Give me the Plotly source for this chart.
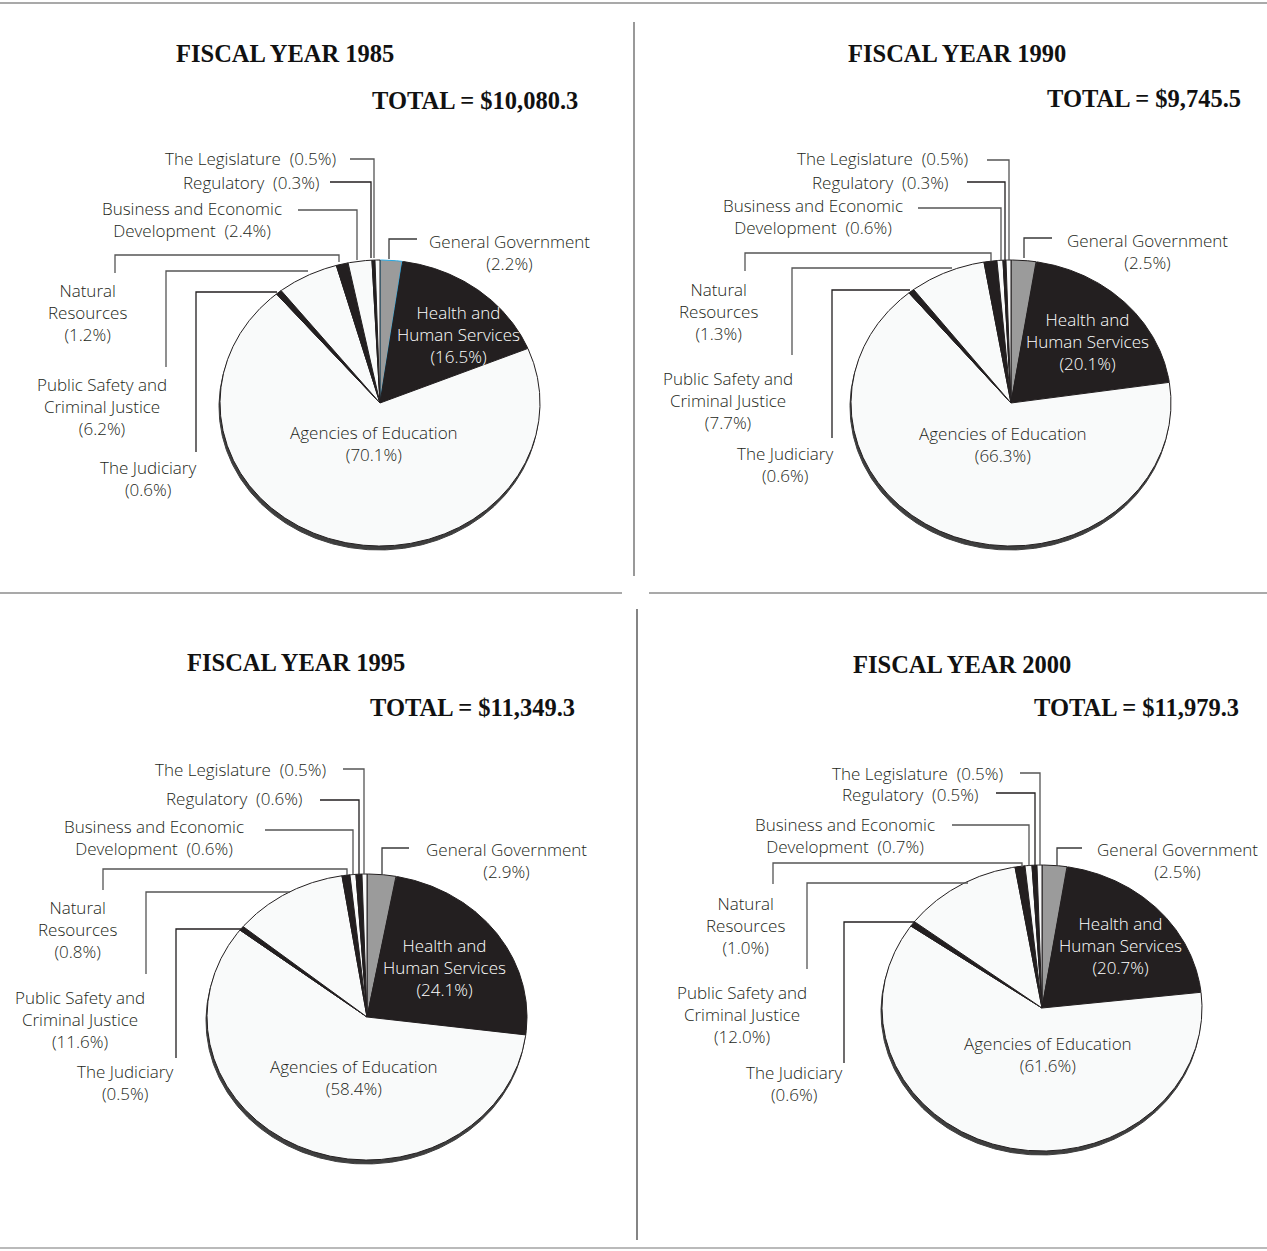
import math
import plotly.graph_objects as go

# ---- data ---------------------------------------------------------------
categories = [
    "General Government",
    "Health and Human Services",
    "Agencies of Education",
    "The Judiciary",
    "Public Safety and Criminal Justice",
    "Natural Resources",
    "Business and Economic Development",
    "Regulatory",
    "The Legislature",
]
fiscal_years = ["1985", "1990", "1995", "2000"]
totals = ["$10,080.3", "$9,745.5", "$11,349.3", "$11,979.3"]

share_1985 = [2.2, 16.5, 70.1, 0.6, 6.2, 1.2, 2.4, 0.3, 0.5]
share_1990 = [2.5, 20.1, 66.3, 0.6, 7.7, 1.3, 0.6, 0.3, 0.5]
share_1995 = [2.9, 24.1, 58.4, 0.5, 11.6, 0.8, 0.6, 0.6, 0.5]
share_2000 = [2.5, 20.7, 61.6, 0.6, 12.0, 1.0, 0.7, 0.5, 0.5]
shares = [share_1985, share_1990, share_1995, share_2000]

# ---- styling --------------------------------------------------------------
W, H = 1267, 1251
INK = "#231f20"
WHITE = "#f9fafa"
GRAY = "#9b9b9b"
slice_colors = [GRAY, INK, WHITE, INK, WHITE, INK, WHITE, INK, WHITE]
label_font = dict(family="'Open Sans', Lato, sans-serif", size=17, color=INK, weight=360)
title_font = dict(family="'Liberation Serif', 'Times New Roman', serif", size=24.5, color="#111111")

# label text per category ({v} is the percentage)
label_templates = [
    "General Government<br>({v}%)",
    "Health and<br>Human Services<br>({v}%)",
    "Agencies of Education<br>({v}%)",
    "The Judiciary<br>({v}%)",
    "Public Safety and<br>Criminal Justice<br>({v}%)",
    "Natural<br>Resources<br>({v}%)",
    "Business and Economic<br>Development\u00a0 ({v}%)",
    "Regulatory\u00a0 ({v}%)",
    "The Legislature\u00a0 ({v}%)",
]

RX, RY = 160, 143  # pie radii in pixels (pie is drawn slightly tilted)

# per-panel layout: pie centre, title/total placement, label anchors, leaders
panels = [
    dict(
        center=(380, 403), title=(285, 53), total=(580, 100),
        labels=[(509, 252.5, "center"), (458, 334, "center"), (374, 443, "center"),
                (148, 478, "center"), (102, 406, "center"), (87, 312, "center"),
                (192, 219, "center"), (322, 182, "right"), (338, 158, "right")],
        leaders=[[(417, 239), (389, 239), (389, 259)],
                 [(196, 452), (196, 292), (277, 292)],
                 [(166, 367), (166, 271), (308, 271)],
                 [(115, 273), (115, 255), (339, 255), (339, 262)],
                 [(298, 210), (357, 210), (357, 260)],
                 [(330, 182), (371, 182), (371, 258)],
                 [(350, 159), (374, 159), (374, 258)]],
        edge={0: "#2aa8e0"},
    ),
    dict(
        center=(1011, 403), title=(957, 53), total=(1243, 98),
        labels=[(1147, 251.5, "center"), (1087, 341, "center"), (1003, 444, "center"),
                (785, 464.5, "center"), (728, 400, "center"), (718, 311, "center"),
                (813, 216, "center"), (951, 182, "right"), (970, 158, "right")],
        leaders=[[(1052, 238), (1024, 238), (1024, 258)],
                 [(832, 438), (832, 290), (910, 290)],
                 [(792, 355), (792, 268), (952, 268)],
                 [(745, 271), (745, 253), (991, 253), (991, 261)],
                 [(918, 208), (1001, 208), (1001, 261)],
                 [(967, 182), (1005, 182), (1005, 260)],
                 [(987, 160), (1009, 160), (1009, 260)]],
        edge={},
    ),
    dict(
        center=(367, 1017), title=(296, 662), total=(577, 707),
        labels=[(506, 860.5, "center"), (444, 967, "center"), (354, 1077, "center"),
                (125, 1082.5, "center"), (80, 1019, "center"), (77, 929, "center"),
                (154, 837, "center"), (305, 798, "right"), (328, 769, "right")],
        leaders=[[(409, 848), (382, 848), (382, 874)],
                 [(176, 1058), (176, 929), (241, 929)],
                 [(146, 974), (146, 892), (290, 892)],
                 [(103, 890), (103, 869), (347, 869), (347, 875)],
                 [(265, 830), (353, 830), (353, 875)],
                 [(320, 800), (359, 800), (359, 874)],
                 [(343, 769), (364, 769), (364, 874)]],
        edge={},
    ),
    dict(
        center=(1042, 1008), title=(962, 664), total=(1241, 707),
        labels=[(1177, 860.5, "center"), (1120, 945, "center"), (1048, 1054, "center"),
                (794, 1083.5, "center"), (742, 1014, "center"), (745, 925, "center"),
                (845, 835, "center"), (981, 794, "right"), (1005, 773, "right")],
        leaders=[[(1082, 848), (1057, 848), (1057, 865)],
                 [(844, 1063), (844, 922), (915, 922)],
                 [(807, 969), (807, 883), (968, 883)],
                 [(773, 884), (773, 863), (1022, 863), (1022, 867)],
                 [(952, 825), (1029, 825), (1029, 866)],
                 [(996, 793), (1035, 793), (1035, 866)],
                 [(1020, 773), (1040, 773), (1040, 865)]],
        edge={},
    ),
]
leader_colors = ["#3a3a3a", INK, "#555555", "#555555", "#555555", INK, "#555555"]


def ellipse_arc(cx, cy, a0, a1, step=0.5):
    """Points along the pie rim from angle a0 to a1 (degrees, clockwise from 12 o'clock)."""
    n = max(2, int(abs(a1 - a0) / step) + 1)
    xs, ys = [], []
    for i in range(n + 1):
        t = math.radians(a0 + (a1 - a0) * i / n)
        xs.append(cx + RX * math.sin(t))
        ys.append(cy - RY * math.cos(t))
    return xs, ys


fig = go.Figure()
annotations = []
shapes = []

for p, vals, year, total in zip(panels, shares, fiscal_years, totals):
    cx, cy = p["center"]

    # depth rim under the pie
    sx, sy = ellipse_arc(cx - 1, cy + 4, 0, 360)
    fig.add_trace(go.Scatter(x=sx, y=sy, mode="lines", fill="toself",
                             fillcolor="#3e3e3e", line=dict(color="#3e3e3e", width=1),
                             hoverinfo="skip", showlegend=False))

    # slices, clockwise from 12 o'clock
    total_share = sum(vals)
    start = 0.0
    for i, v in enumerate(vals):
        sweep = 360.0 * v / total_share
        ax, ay = ellipse_arc(cx, cy, start, start + sweep, step=0.25)
        xs = [cx] + ax + [cx]
        ys = [cy] + ay + [cy]
        fig.add_trace(go.Scatter(
            x=xs, y=ys, mode="lines", fill="toself",
            fillcolor=slice_colors[i],
            line=dict(color=p["edge"].get(i, INK), width=1),
            name=categories[i], hoverinfo="name", showlegend=False))
        start += sweep

    # category labels
    for i, v in enumerate(vals):
        lx, ly, anchor = p["labels"][i]
        font = dict(label_font)
        if i == 1:
            font["color"] = "#ffffff"
        annotations.append(dict(
            x=lx, y=ly, xref="x", yref="y", text=label_templates[i].format(v=f"{v:.1f}"),
            showarrow=False, xanchor=anchor, yanchor="middle", align="center", font=font))

    # leader lines
    for pts, col in zip(p["leaders"], leader_colors):
        path = "M " + " L ".join(f"{x},{y}" for x, y in pts)
        shapes.append(dict(type="path", path=path, xref="x", yref="y",
                           line=dict(color=col, width=1.3)))

    # heading and total
    tx, ty = p["title"]
    annotations.append(dict(x=tx, y=ty, xref="x", yref="y", text=f"<b>FISCAL YEAR {year}</b>",
                            showarrow=False, xanchor="center", yanchor="middle", font=title_font))
    ox, oy = p["total"]
    annotations.append(dict(x=ox, y=oy, xref="x", yref="y", text=f"<b>TOTAL = {total}</b>",
                            showarrow=False, xanchor="right", yanchor="middle", font=title_font))

# panel rules
rules = [
    ((0, 3), (W, 3), "#555555"),
    ((634, 22), (634, 576), "#555555"),
    ((0, 593), (622, 593), "#555555"),
    ((649, 593), (W, 593), "#555555"),
    ((637, 609), (637, 1240), "#333333"),
    ((0, 1248), (W, 1248), "#777777"),
]
for (x0, y0), (x1, y1), col in rules:
    shapes.append(dict(type="line", x0=x0, y0=y0, x1=x1, y1=y1, xref="x", yref="y",
                       line=dict(color=col, width=1.2)))

fig.update_layout(
    width=W, height=H,
    margin=dict(l=0, r=0, t=0, b=0),
    paper_bgcolor="white", plot_bgcolor="white",
    xaxis=dict(range=[0, W], visible=False, fixedrange=True),
    yaxis=dict(range=[H, 0], visible=False, fixedrange=True),
    annotations=annotations,
    shapes=shapes,
    showlegend=False,
)

fig.write_html("out.html")
